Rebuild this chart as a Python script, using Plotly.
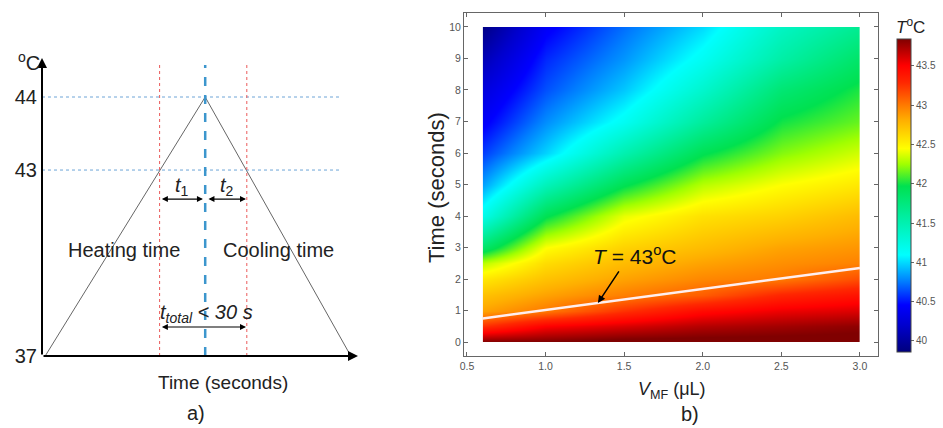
import plotly.graph_objects as go

W, H = 943, 428
FONT = "Arial, Liberation Sans, sans-serif"

# ---------------- Panel a) : schematic temperature profile ----------------
profile_time = [0.02, 1.02, 1.93]          # schematic time units
profile_level = [0.0, 1.0, 0.0]            # schematic level (37 -> 0, 44 -> 1)
level_vals = [0.0, 0.718, 1.0]
level_text = ["37", "43", "44"]
cross_heat = 0.735                          # time where heating passes 43
cross_cool = 1.28                           # time where cooling passes 43
peak_time = 1.02

# ---------------- Panel b) : temperature map ----------------
V_uL = [0.6, 1.0, 1.5, 2.0, 2.5, 3.0]
time_s = [0, 0.5, 1, 1.5, 2, 2.5, 3, 4, 5, 6, 7, 8, 9, 10]
T_V06 = [43.85, 43.25, 42.85, 42.72, 42.55, 42.30, 41.85, 41.20, 40.85, 40.60, 40.42, 40.28, 40.10, 39.90]
T_V10 = [43.85, 43.50, 43.00, 42.85, 42.72, 42.60, 42.45, 41.95, 41.45, 40.98, 40.80, 40.65, 40.55, 40.42]
T_V15 = [43.90, 43.60, 43.25, 42.98, 42.85, 42.75, 42.65, 42.40, 41.95, 41.50, 41.15, 40.95, 40.82, 40.72]
T_V20 = [43.90, 43.70, 43.45, 43.10, 42.95, 42.85, 42.75, 42.58, 42.30, 41.95, 41.60, 41.35, 41.15, 41.00]
T_V25 = [43.90, 43.75, 43.55, 43.30, 43.00, 42.92, 42.85, 42.65, 42.45, 42.20, 42.00, 41.80, 41.55, 41.40]
T_V30 = [43.90, 43.80, 43.60, 43.40, 43.15, 42.97, 42.90, 42.75, 42.55, 42.35, 42.15, 42.02, 41.85, 41.65]
iso43_V = [0.6, 3.0]
iso43_t = [0.75, 2.35]
cbar_ticks = [40, 40.5, 41, 41.5, 42, 42.5, 43, 43.5]
T_min, T_max = 39.86, 43.84

columns = [T_V06, T_V10, T_V15, T_V20, T_V25, T_V30]
z = [list(row) for row in zip(*columns)]

def fx(px):
    return px / W

def fy(py):
    return 1 - py / H

jet = [
    [0.000, "rgb(0,0,125)"],
    [0.085, "rgb(0,0,205)"],
    [0.150, "rgb(0,0,255)"],
    [0.225, "rgb(0,125,255)"],
    [0.310, "rgb(0,255,255)"],
    [0.420, "rgb(0,240,170)"],
    [0.530, "rgb(0,225,80)"],
    [0.600, "rgb(160,255,0)"],
    [0.650, "rgb(255,255,0)"],
    [0.740, "rgb(255,175,0)"],
    [0.790, "rgb(255,120,0)"],
    [0.860, "rgb(255,40,0)"],
    [0.915, "rgb(255,0,0)"],
    [1.000, "rgb(128,0,0)"],
]

fig = go.Figure()

fig.add_trace(go.Contour(
    x=V_uL, y=time_s, z=z,
    contours=dict(coloring="heatmap", showlines=False),
    line=dict(width=0),
    colorscale=jet, zmin=T_min, zmax=T_max,
    xaxis="x", yaxis="y", hoverinfo="skip",
    colorbar=dict(
        x=fx(897), xanchor="left", xpad=0,
        y=fy(195.5), yanchor="middle", ypad=0,
        lenmode="pixels", len=313,
        thicknessmode="pixels", thickness=14,
        outlinewidth=1, outlinecolor="#444",
        tickvals=cbar_ticks, ticks="outside", ticklen=3, tickcolor="#666",
        tickfont=dict(family=FONT, size=10, color="#555"),
    ),
))

fig.add_trace(go.Scatter(
    x=iso43_V, y=iso43_t, mode="lines",
    line=dict(color="rgb(255,238,238)", width=2.5),
    xaxis="x", yaxis="y", showlegend=False, hoverinfo="skip",
))

fig.add_trace(go.Scatter(
    x=profile_time, y=profile_level, mode="lines",
    line=dict(color="#666", width=1),
    xaxis="x2", yaxis="y2", showlegend=False, hoverinfo="skip",
))

axis_b = dict(showgrid=False, zeroline=False, showline=True, linecolor="#666",
              linewidth=1, mirror="ticks", ticks="inside", ticklen=4,
              tickcolor="#666", tickfont=dict(family=FONT, size=10.5, color="#555"))

x2_max = 1.975
y2_max = 1.1506

fig.update_layout(
    width=W, height=H,
    margin=dict(l=0, r=0, t=0, b=0, autoexpand=False),
    paper_bgcolor="white", plot_bgcolor="white",
    showlegend=False,
    xaxis=dict(domain=[fx(464), fx(878)], range=[0.481, 3.115],
               tick0=0.5, dtick=0.5, tickformat=".1f", anchor="y", **axis_b),
    yaxis=dict(domain=[fy(356), fy(13)], range=[-0.444, 10.444],
               tick0=0, dtick=1, anchor="x", **axis_b),
    xaxis2=dict(domain=[fx(42), fx(358)], range=[0, x2_max], anchor="y2",
                showgrid=False, zeroline=False, showline=False,
                showticklabels=False, ticks=""),
    yaxis2=dict(domain=[fy(356), fy(58)], range=[0, y2_max], anchor="x2",
                showgrid=False, zeroline=False, showline=False, ticks="",
                tickvals=level_vals, ticktext=level_text, ticklabelstandoff=4,
                tickfont=dict(family=FONT, size=20, color="#222")),
)

# guide lines of panel a
shapes = []
for lv in level_vals[1:]:
    shapes.append(dict(type="line", xref="x2", yref="y2", x0=0, x1=1.8625, y0=lv, y1=lv,
                       line=dict(color="rgb(110,165,215)", width=1, dash="dot")))
for tc in [cross_heat, cross_cool]:
    shapes.append(dict(type="line", xref="x2", yref="y2", x0=tc, x1=tc, y0=0, y1=1.131,
                       line=dict(color="rgb(235,90,90)", width=1, dash="dot")))
shapes.append(dict(type="line", xref="x2", yref="y2", x0=peak_time, x1=peak_time, y0=0, y1=1.124,
                   line=dict(color="rgb(60,150,205)", width=2.5, dash="dash")))
fig.update_layout(shapes=shapes)

ann = []
def arrow(x, y, ax, ay, width=2, both=False, size=1.0):
    d = dict(x=x, y=y, ax=ax, ay=ay, xref="x2", yref="y2", axref="x2", ayref="y2",
             text="", showarrow=True, arrowhead=2, arrowsize=size, arrowwidth=width,
             arrowcolor="black", standoff=0, startstandoff=0)
    if both:
        d["arrowside"] = "end+start"
        d["startarrowhead"] = 2
        d["startarrowsize"] = size
    return d

# axes with arrowheads
ann.append(arrow(0, y2_max, 0, 0, width=2))
ann.append(arrow(x2_max, 0, 0, 0, width=2))
# interval arrows
ann.append(arrow(1.006, 0.606, cross_heat + 0.005, 0.606, width=1.2, both=True))
ann.append(arrow(cross_cool - 0.005, 0.606, 1.031, 0.606, width=1.2, both=True))
ann.append(arrow(cross_cool - 0.005, 0.112, cross_heat + 0.005, 0.112, width=1.2, both=True))

def txt(text, x, y, size=20, xref="x2", yref="y2", color="#222", **kw):
    d = dict(text=text, x=x, y=y, xref=xref, yref=yref, showarrow=False,
             font=dict(family=FONT, size=size, color=color), xanchor="center", yanchor="middle")
    d.update(kw)
    return d

ann.append(txt("<i>t</i><sub>1</sub>", 0.875, 0.655, size=20))
ann.append(txt("<i>t</i><sub>2</sub>", 1.156, 0.655, size=20))
ann.append(txt("Heating time", 0.5125, 0.409, size=20))
ann.append(txt("Cooling time", 1.475, 0.409, size=20))
ann.append(txt("<i>t<sub>total</sub> &lt; 30 s</i>", 1.03, 0.166, size=20))
ann.append(txt("<sup>o</sup>C", fx(29), fy(61), size=20, xref="paper", yref="paper"))
ann.append(txt("Time (seconds)", fx(223), fy(382), size=19, xref="paper", yref="paper"))
ann.append(txt("a)", fx(196), fy(413), size=20, xref="paper", yref="paper"))

# panel b texts
ann.append(txt("Time (seconds)", fx(437), fy(188), size=22, xref="paper", yref="paper",
               textangle=-90))
ann.append(txt("<i>V</i><sub>MF</sub> (μL)", fx(672), fy(390), size=18, xref="paper", yref="paper"))
ann.append(txt("b)", fx(690), fy(414), size=20, xref="paper", yref="paper"))
ann.append(txt("<i>T</i><sup>o</sup>C", fx(910), fy(26), size=17, xref="paper", yref="paper"))
ann.append(dict(x=1.333, y=1.24, xref="x", yref="y", ax=22, ay=-33,
                text="", showarrow=True, arrowhead=2, arrowsize=1, arrowwidth=1.5,
                arrowcolor="black", standoff=0))
ann.append(txt("<i>T</i> = 43<sup>o</sup>C", fx(634), fy(255), size=21, xref="paper",
               yref="paper", color="#111"))

fig.update_layout(annotations=ann)
fig.write_html("out.html", config={"displayModeBar": False},
               post_script="document.body.style.margin='0';")
